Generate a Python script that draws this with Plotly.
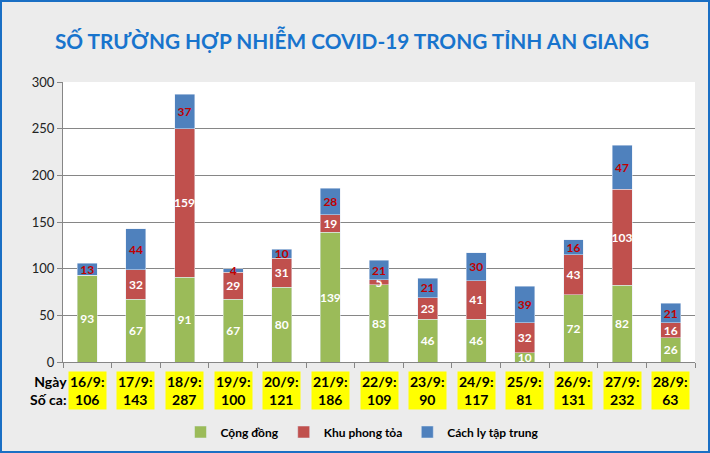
import plotly.graph_objects as go

dates = ["16/9", "17/9", "18/9", "19/9", "20/9", "21/9", "22/9",
         "23/9", "24/9", "25/9", "26/9", "27/9", "28/9"]
cong_dong = [93, 67, 91, 67, 80, 139, 83, 46, 46, 10, 72, 82, 26]
khu_phong_toa = [0, 32, 159, 29, 31, 19, 5, 23, 41, 32, 43, 103, 16]
cach_ly = [13, 44, 37, 4, 10, 28, 21, 21, 30, 39, 16, 47, 21]
totals = [106, 143, 287, 100, 121, 186, 109, 90, 117, 81, 131, 232, 63]

W, H = 710, 453
ML, MR, MT, MB = 63, 15, 82, 91
PW, PH = W - ML - MR, H - MT - MB

FONT = "Lato"
lab_font_w = dict(family=FONT, size=12, color="white", weight="bold")
lab_font_r = dict(family=FONT, size=12, color="#C00000", weight="bold")


def labels(vals):
    return [str(v) if v else "" for v in vals]


fig = go.Figure()
fig.add_bar(x=dates, y=cong_dong, name="Cộng đồng", marker_color="#9BBB59",
            text=labels(cong_dong), textposition="inside", insidetextanchor="middle",
            textfont=lab_font_w, constraintext="none", textangle=0)
fig.add_bar(x=dates, y=khu_phong_toa, name="Khu phong tỏa", marker_color="#C0504D",
            text=labels(khu_phong_toa), textposition="inside", insidetextanchor="middle",
            textfont=lab_font_w, constraintext="none", textangle=0)
fig.add_bar(x=dates, y=cach_ly, name="Cách ly tập trung", marker_color="#4F81BD",
            text=labels(cach_ly), textposition="inside", insidetextanchor="middle",
            textfont=lab_font_r, constraintext="none", textangle=0)

ROW_Y = -28 / PH
ann = []
for d, t in zip(dates, totals):
    ann.append(dict(x=d, xref="x", y=ROW_Y, yref="paper",
                    text=f"<b>{d}:</b><br><b>{t}</b>", showarrow=False,
                    bgcolor="#FFFF00", borderpad=1, align="center",
                    font=dict(family=FONT, size=14, color="black"),
                    yanchor="middle"))
ann.append(dict(x=(69 - ML) / PW, xref="paper", y=ROW_Y, yref="paper",
                text="<b>Ngày</b><br><b>Số ca:</b>", showarrow=False, align="right",
                xanchor="right", yanchor="middle",
                font=dict(family=FONT, size=14, color="black")))

fig.update_layout(
    width=W, height=H,
    margin=dict(l=ML, r=MR, t=MT, b=MB, autoexpand=False),
    barmode="stack", bargap=0.59,
    paper_bgcolor="#ECECEC", plot_bgcolor="white",
    title=dict(text="<b>SỐ TRƯỜNG HỢP NHIỄM COVID-19 TRONG TỈNH AN GIANG</b>",
               x=352 / W, xanchor="center", y=1 - 42 / H, yanchor="middle",
               font=dict(family=FONT, size=20.8, color="#1874CD")),
    showlegend=True,
    legend=dict(orientation="h", x=(362 - ML) / PW, xanchor="center",
                y=-(432 - MT - PH) / PH, yanchor="middle", itemwidth=30,
                font=dict(family=FONT, size=12, color="black", weight="bold"),
                bgcolor="rgba(0,0,0,0)", traceorder="normal"),
    uniformtext=dict(mode="show", minsize=12),
    annotations=ann,
    xaxis=dict(type="category", showticklabels=False, tickson="boundaries",
               ticks="outside", ticklen=5, tickcolor="#868686",
               showline=True, linecolor="#868686", linewidth=1, showgrid=False),
    yaxis=dict(range=[0, 300], dtick=50, showgrid=True, gridcolor="#868686",
               gridwidth=1, ticks="outside", ticklen=5, tickcolor="#868686",
               showline=True, linecolor="#868686", linewidth=1, zeroline=False,
               tickfont=dict(family=FONT, size=13, color="#222222")),
    shapes=[dict(type="rect", xref="paper", yref="paper",
                 x0=(1 - ML) / PW, x1=(W - 1 - ML) / PW,
                 y0=-(H - 1 - MT - PH) / PH, y1=1 + (MT - 1) / PH,
                 line=dict(color="#1A6FC4", width=2), layer="below")],
)

fig.write_html("out.html", config={"displayModeBar": False},
               post_script="document.body.style.margin='0';document.body.style.overflow='hidden';")
